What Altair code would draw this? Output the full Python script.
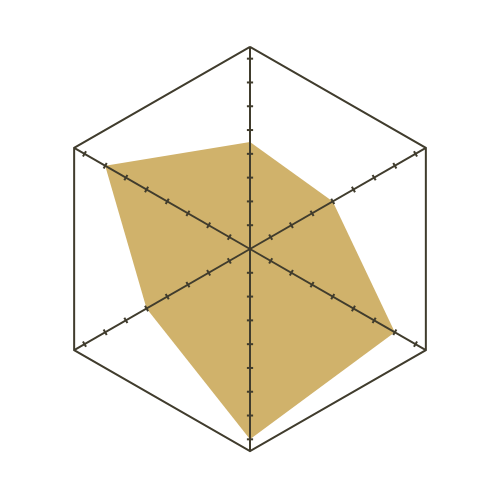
import altair as alt
import pandas as pd

# Radar chart data (clockwise from top)
axes_deg = [0, 60, 120, 180, 240, 300]
values = [4.5, 4, 7, 8, 5, 7]
r_max = 8.5
tick_levels = [1, 2, 3, 4, 5, 6, 7, 8]

FILL = "#D0B26B"
LINE = "#403C2D"
HALF = 10.13
TICK_H = 0.13

poly = pd.DataFrame({"i": list(range(7)), "deg": axes_deg + [axes_deg[0]],
                     "v": values + [values[0]]})
frame = pd.DataFrame({"i": list(range(7)), "deg": axes_deg + [axes_deg[0]],
                      "v": [r_max] * 7})
spokes = pd.DataFrame({"deg": axes_deg, "v": [r_max] * len(axes_deg)})
ticks = pd.DataFrame([{"deg": d, "v": t} for d in axes_deg for t in tick_levels])

xs = alt.Scale(domain=[-HALF, HALF])
ys = alt.Scale(domain=[-HALF, HALF])


def polar(ch):
    return ch.transform_calculate(a="datum.deg*PI/180").transform_calculate(
        x="datum.v*sin(datum.a)", y="datum.v*cos(datum.a)")


fill_layer = polar(alt.Chart(poly).mark_line(filled=True, fill=FILL, strokeWidth=0, opacity=1)).encode(
    x=alt.X("x:Q", scale=xs, axis=None),
    y=alt.Y("y:Q", scale=ys, axis=None),
    order="i:Q",
)

frame_layer = polar(alt.Chart(frame).mark_line(color=LINE, strokeWidth=2)).encode(
    x=alt.X("x:Q", scale=xs, axis=None),
    y=alt.Y("y:Q", scale=ys, axis=None),
    order="i:Q",
)

spoke_layer = polar(alt.Chart(spokes).mark_rule(color=LINE, strokeWidth=2)).transform_calculate(
    x0="0", y0="0").encode(
    x=alt.X("x0:Q", scale=xs, axis=None),
    y=alt.Y("y0:Q", scale=ys, axis=None),
    x2="x:Q",
    y2="y:Q",
)

tick_layer = polar(alt.Chart(ticks).mark_rule(color=LINE, strokeWidth=2)).transform_calculate(
    tx1=f"datum.x + {TICK_H}*cos(datum.a)",
    ty1=f"datum.y - {TICK_H}*sin(datum.a)",
    tx2=f"datum.x - {TICK_H}*cos(datum.a)",
    ty2=f"datum.y + {TICK_H}*sin(datum.a)",
).encode(
    x=alt.X("tx1:Q", scale=xs, axis=None),
    y=alt.Y("ty1:Q", scale=ys, axis=None),
    x2="tx2:Q",
    y2="ty2:Q",
)

chart = alt.layer(fill_layer, frame_layer, spoke_layer, tick_layer).properties(
    width=484, height=482, padding=0,
    autosize=alt.AutoSizeParams(type="none"),
).configure_view(strokeWidth=0)

chart.save("out.html", embed_options={"renderer": "svg", "actions": False})
